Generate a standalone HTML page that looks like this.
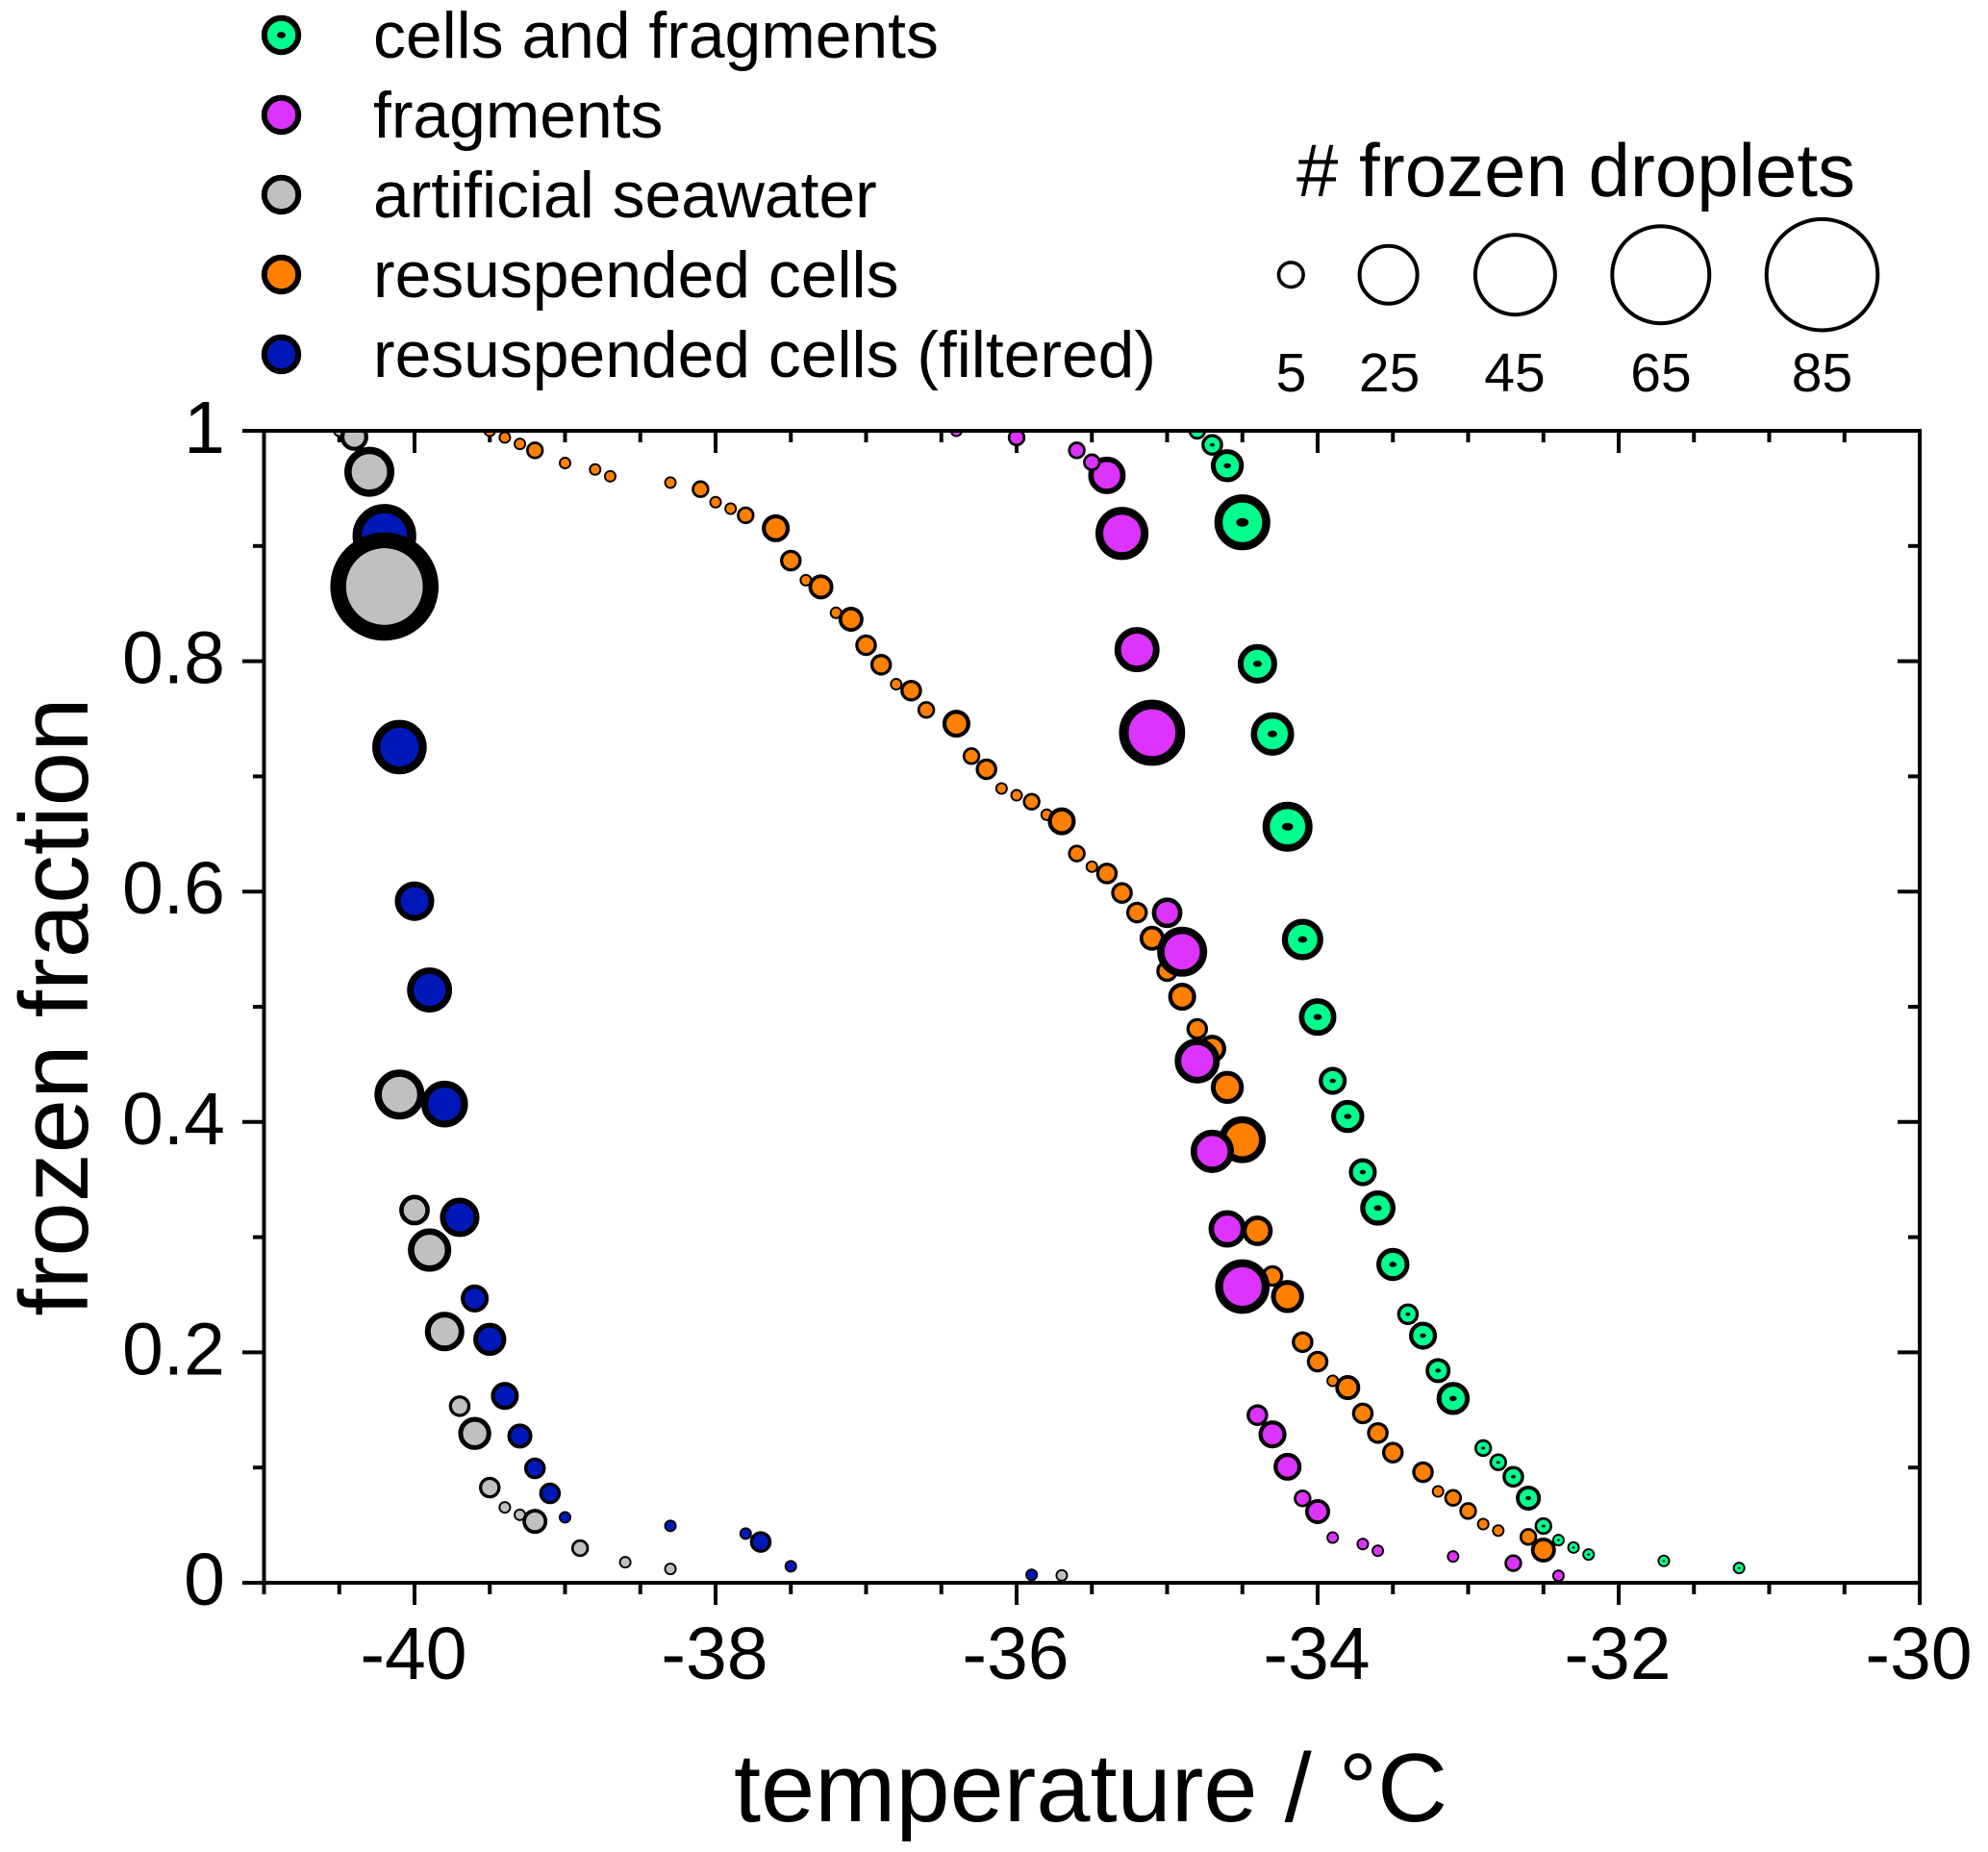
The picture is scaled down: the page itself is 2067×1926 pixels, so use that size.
<!DOCTYPE html>
<html lang="en">
<head>
<meta charset="utf-8">
<title>Frozen fraction vs temperature</title>
<style>
html,body{margin:0;padding:0;background:#fff;}
svg{display:block;}
text{font-family:"Liberation Sans",Arial,sans-serif;fill:#000;}
</style>
</head>
<body>
<svg id="chart" xmlns="http://www.w3.org/2000/svg" width="2067" height="1926" viewBox="0 0 2067 1926">
  <defs>
    <clipPath id="plot-clip"><rect x="274" y="448" width="1722" height="1198"/></clipPath>
  </defs>
  <rect x="0" y="0" width="2067" height="1926" fill="#fff"/>

  <g>
    <g>
      <circle cx="292.5" cy="36.5" r="17.7" fill="#00ff8c" stroke="#000" stroke-width="6"/>
      <ellipse cx="292.5" cy="36.5" rx="4.5" ry="3.2" fill="#000"/>
      <text x="388" y="60" font-size="67.8">cells and fragments</text>
    </g>
    <g>
      <circle cx="292.5" cy="119.5" r="17.7" fill="#dd33ff" stroke="#000" stroke-width="6"/>
      <text x="388" y="143" font-size="67.8">fragments</text>
    </g>
    <g>
      <circle cx="292.5" cy="202.5" r="17.7" fill="#c0c0c0" stroke="#000" stroke-width="6"/>
      <text x="388" y="226" font-size="67.8">artificial seawater</text>
    </g>
    <g>
      <circle cx="292.5" cy="285.5" r="17.7" fill="#ff8000" stroke="#000" stroke-width="6"/>
      <text x="388" y="309" font-size="67.8">resuspended cells</text>
    </g>
    <g>
      <circle cx="292.5" cy="368.5" r="17.7" fill="#0018b8" stroke="#000" stroke-width="6"/>
      <text x="388" y="392" font-size="67.8">resuspended cells (filtered)</text>
    </g>
  </g>

  <g>
    <text x="1348" y="204" font-size="78"># frozen droplets</text>
    <g>
      <circle cx="1342.3" cy="285.7" r="12.8" fill="#fff" stroke="#000" stroke-width="3.6"/>
      <text x="1342.5" y="407" font-size="57" text-anchor="middle">5</text>
    </g>
    <g>
      <circle cx="1443.6" cy="285.7" r="30" fill="#fff" stroke="#000" stroke-width="4"/>
      <text x="1444.6" y="407" font-size="57" text-anchor="middle">25</text>
    </g>
    <g>
      <circle cx="1575.4" cy="285.7" r="41.5" fill="#fff" stroke="#000" stroke-width="4"/>
      <text x="1575" y="407" font-size="57" text-anchor="middle">45</text>
    </g>
    <g>
      <circle cx="1726.8" cy="285.7" r="50.5" fill="#fff" stroke="#000" stroke-width="4"/>
      <text x="1727" y="407" font-size="57" text-anchor="middle">65</text>
    </g>
    <g>
      <circle cx="1894.5" cy="285.7" r="57.8" fill="#fff" stroke="#000" stroke-width="4"/>
      <text x="1894.5" y="407" font-size="57" text-anchor="middle">85</text>
    </g>
  </g>

  <g id="ticks"></g>
  <g id="tick-labels"></g>

  <g clip-path="url(#plot-clip)">
    <g id="series-filtered"></g>
    <g id="series-seawater"></g>
    <g id="series-cells"></g>
    <g id="series-fragments"></g>
    <g id="series-both"></g>
  </g>

  <rect x="274.5" y="448" width="1721.5" height="1198" fill="none" stroke="#000" stroke-width="4"/>

  <text x="1134" y="1894" font-size="101" text-anchor="middle">temperature / °C</text>
  <text transform="translate(91 1047) rotate(-90)" font-size="101.5" text-anchor="middle">frozen fraction</text>
</svg>

<script>
// Axis tick values and labels
const xMajorTicks = [-40, -38, -36, -34, -32, -30];
const xMajorLabels = ["-40", "-38", "-36", "-34", "-32", "-30"];
const xMinorTicks = [-41, -40.5, -39.5, -39, -38.5, -37.5, -37, -36.5, -35.5, -35, -34.5, -33.5, -33, -32.5, -31.5, -31, -30.5];
const yMajorTicks = [0, 0.2, 0.4, 0.6, 0.8, 1];
const yMajorLabels = ["0", "0.2", "0.4", "0.6", "0.8", "1"];
const yMinorTicks = [0.1, 0.3, 0.5, 0.7, 0.9];

// Resuspended cells (filtered)
const filteredTemps = [-40.2, -40.1, -40, -39.9, -39.8, -39.7, -39.6, -39.5, -39.4, -39.3, -39.2, -39.1, -39, -38.3, -37.8, -37.7, -37.5, -35.9];
const filteredFractions = [0.9088, 0.7254, 0.5917, 0.5146, 0.4155, 0.3172, 0.2468, 0.2113, 0.1622, 0.1274, 0.0993, 0.0776, 0.0568, 0.0494, 0.0427, 0.0354, 0.0143, 0.0069];
const filteredCounts = [26, 19, 10, 13, 14, 10, 5, 7, 5, 4, 3, 3, 1, 1, 1, 3, 1, 1];

// Artificial seawater
const seawaterTemps = [-40.5, -40.4, -40.3, -40.2, -40.1, -40, -39.9, -39.8, -39.7, -39.6, -39.5, -39.4, -39.3, -39.2, -38.9, -38.6, -38.3, -35.7];
const seawaterFractions = [1, 0.9947, 0.9644, 0.8648, 0.4238, 0.3235, 0.2888, 0.2181, 0.1533, 0.1296, 0.0826, 0.0654, 0.059, 0.0533, 0.03, 0.0178, 0.012, 0.0064];
const seawaterCounts = [1, 5, 16, 75, 16, 6, 12, 10, 3, 7, 3, 1, 1, 4, 2, 1, 1, 1];

// Resuspended cells
const cellsTemps = [-39.5, -39.4, -39.3, -39.2, -39, -38.8, -38.7, -38.3, -38.1, -38, -37.9, -37.8, -37.6, -37.5, -37.4, -37.3, -37.2, -37.1, -37, -36.9, -36.8, -36.7, -36.6, -36.4, -36.3, -36.2, -36.1, -36, -35.9, -35.8, -35.7, -35.6, -35.5, -35.4, -35.3, -35.2, -35.1, -35, -34.9, -34.8, -34.7, -34.6, -34.5, -34.4, -34.3, -34.2, -34.1, -34, -33.9, -33.8, -33.7, -33.6, -33.5, -33.3, -33.2, -33.1, -33, -32.9, -32.8, -32.6, -32.5];
const cellsFractions = [1, 0.9942, 0.9886, 0.983, 0.972, 0.9664, 0.9605, 0.955, 0.9493, 0.938, 0.9324, 0.9266, 0.9154, 0.8873, 0.8703, 0.8645, 0.842, 0.8364, 0.8139, 0.7969, 0.78, 0.7744, 0.7577, 0.7457, 0.7176, 0.7062, 0.6895, 0.6836, 0.678, 0.6667, 0.661, 0.633, 0.6216, 0.6157, 0.5988, 0.5818, 0.5595, 0.531, 0.5087, 0.4808, 0.4636, 0.43, 0.3846, 0.3055, 0.2663, 0.2485, 0.2089, 0.192, 0.1753, 0.1694, 0.147, 0.13, 0.113, 0.096, 0.0793, 0.0737, 0.0623, 0.0509, 0.0453, 0.0398, 0.0284];
const cellsCounts = [1, 1, 1, 2, 1, 1, 1, 1, 2, 1, 1, 2, 5, 3, 1, 4, 1, 4, 3, 3, 1, 3, 2, 5, 2, 3, 1, 1, 2, 1, 5, 2, 1, 3, 3, 3, 4, 3, 5, 3, 5, 7, 14, 6, 3, 7, 3, 3, 1, 4, 3, 3, 3, 3, 1, 2, 2, 1, 1, 2, 4];

// Fragments
const fragmentsTemps = [-32.4, -32.7, -33.1, -33.6, -33.7, -33.9, -34, -34.1, -34.2, -34.3, -34.4, -34.5, -34.6, -34.7, -34.8, -34.9, -35, -35.1, -35.2, -35.3, -35.4, -35.5, -35.6, -36, -36.4];
const fragmentsFractions = [0.0061, 0.017, 0.0228, 0.0278, 0.0336, 0.0392, 0.0618, 0.0732, 0.1007, 0.1288, 0.1455, 0.2571, 0.3072, 0.3745, 0.453, 0.5478, 0.5816, 0.7379, 0.81, 0.9109, 0.9613, 0.9727, 0.983, 0.9942, 1];
const fragmentsCounts = [1, 2, 1, 1, 1, 1, 4, 2, 5, 5, 3, 19, 9, 12, 13, 16, 6, 28, 13, 18, 9, 2, 2, 2, 1];

// Cells and fragments
const bothTemps = [-34.8, -34.7, -34.6, -34.5, -34.4, -34.3, -34.2, -34.1, -34, -33.9, -33.8, -33.7, -33.6, -33.5, -33.4, -33.3, -33.2, -33.1, -32.9, -32.8, -32.7, -32.6, -32.5, -32.4, -32.3, -32.2, -31.7, -31.2];
const bothFractions = [1, 0.9878, 0.9697, 0.9205, 0.7977, 0.7368, 0.6563, 0.5584, 0.4911, 0.4357, 0.4048, 0.3564, 0.3253, 0.2763, 0.2331, 0.2145, 0.1842, 0.16, 0.1169, 0.1046, 0.092, 0.0735, 0.0492, 0.037, 0.0306, 0.0245, 0.019, 0.0128];
const bothCounts = [2, 3, 7, 20, 10, 12, 16, 11, 9, 5, 7, 5, 8, 7, 3, 5, 4, 7, 2, 2, 3, 4, 2, 1, 1, 1, 1, 1];

const SVG_NS = "http://www.w3.org/2000/svg";
function xScale(t) { return 431 + (t + 40) * 156.5; }
function yScale(f) { return 1646 - f * 1198; }
function markerDiameter(n) { return 13 * Math.sqrt(n); }

function drawSeries(groupId, temps, fractions, counts, fill, withDot) {
  const group = document.getElementById(groupId);
  for (let i = 0; i < temps.length; i++) {
    const d = markerDiameter(counts[i]);
    const sw = 0.146 * d;
    const el = document.createElementNS(SVG_NS, "circle");
    
    
    el.setAttribute("cx", xScale(temps[i]));
    el.setAttribute("cy", yScale(fractions[i]));
    el.setAttribute("r", (d - sw) / 2);
    el.setAttribute("fill", fill);
    el.setAttribute("stroke", "#000");
    el.setAttribute("stroke-width", sw);
    group.appendChild(el);
    if (withDot) {
      const dot = document.createElementNS(SVG_NS, "ellipse");
      
      
      dot.setAttribute("cx", xScale(temps[i]));
      dot.setAttribute("cy", yScale(fractions[i]));
      dot.setAttribute("rx", 0.11 * d);
      dot.setAttribute("ry", 0.078 * d);
      dot.setAttribute("fill", "#000");
      group.appendChild(dot);
    }
  }
}

function addTick(x1, y1, x2, y2) {
  const el = document.createElementNS(SVG_NS, "line");
  
  
  el.setAttribute("x1", x1);
  el.setAttribute("y1", y1);
  el.setAttribute("x2", x2);
  el.setAttribute("y2", y2);
  el.setAttribute("stroke", "#000");
  el.setAttribute("stroke-width", "4");
  document.getElementById("ticks").appendChild(el);
}

function addTickLabel(x, y, anchor, label) {
  const el = document.createElementNS(SVG_NS, "text");
  
  
  el.setAttribute("x", x);
  el.setAttribute("y", y);
  el.setAttribute("text-anchor", anchor);
  el.setAttribute("font-size", "77");
  el.textContent = label;
  document.getElementById("tick-labels").appendChild(el);
}

xMajorTicks.forEach(function (t, i) {
  addTick(xScale(t), 1646, xScale(t), 1669);
  addTick(xScale(t), 448, xScale(t), 471);
  addTickLabel(xScale(t) - 1, 1746, "middle", xMajorLabels[i]);
});
xMinorTicks.forEach(function (t) {
  addTick(xScale(t), 1646, xScale(t), 1658);
  addTick(xScale(t), 448, xScale(t), 460);
});
yMajorTicks.forEach(function (f, i) {
  addTick(274.5, yScale(f), 252, yScale(f));
  addTick(1996, yScale(f), 1973, yScale(f));
  addTickLabel(234, yScale(f) + 23, "end", yMajorLabels[i]);
});
yMinorTicks.forEach(function (f) {
  addTick(274.5, yScale(f), 263, yScale(f));
  addTick(1996, yScale(f), 1984, yScale(f));
});

drawSeries("series-filtered", filteredTemps, filteredFractions, filteredCounts, "#0018b8", false);
drawSeries("series-seawater", seawaterTemps, seawaterFractions, seawaterCounts, "#c0c0c0", false);
drawSeries("series-cells", cellsTemps, cellsFractions, cellsCounts, "#ff8000", false);
drawSeries("series-fragments", fragmentsTemps, fragmentsFractions, fragmentsCounts, "#dd33ff", false);
drawSeries("series-both", bothTemps, bothFractions, bothCounts, "#00ff8c", true);
</script>
</body>
</html>
